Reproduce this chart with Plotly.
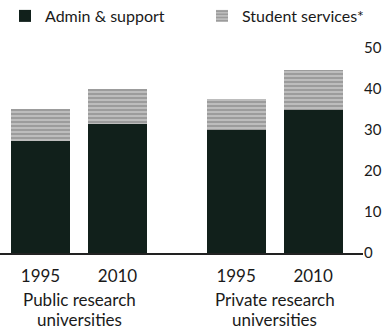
import plotly.graph_objects as go

groups = ["Public research<br>universities", "Private research<br>universities"]
years = ["1995", "2010"]
admin_support = [27.3, 31.5, 30.0, 34.9]
student_services = [7.8, 8.5, 7.6, 9.7]
y_ticks = [0, 10, 20, 30, 40, 50]

GROUP_STEP = 2.54
xs, xt = [], []
for gi, g in enumerate(groups):
    for yi, yr in enumerate(years):
        xs.append(gi * GROUP_STEP + yi)
        xt.append(yr)

font = "Lato"
fig = go.Figure()
fig.add_bar(x=xs, y=admin_support, name="Admin & support", width=0.766, legend="legend",
            showlegend=True, marker=dict(color="#11201b", line=dict(width=0)))
fig.add_bar(x=xs, y=student_services, name="Student services*", width=0.766, legend="legend2",
            showlegend=True,
            marker=dict(color="#bdbdbd", line=dict(width=0),
                        pattern=dict(shape="-", fgcolor="#5e5e5e", size=4, solidity=0.35)))

PLOT_TOP, PLOT_BOTTOM = 48, 253
for gi, g in enumerate(groups):
    for li, line in enumerate(g.split("<br>")):
        py = 299 + li * 20
        fig.add_annotation(x=gi * GROUP_STEP + 0.5, y=(PLOT_BOTTOM - py) / (PLOT_BOTTOM - PLOT_TOP),
                           xref="x", yref="paper", borderpad=0,
                           text=line, showarrow=False, yanchor="middle",
                           font=dict(family=font, size=17, color="#1a1a1a"))

leg_y = 1 + (PLOT_TOP - 16) / (PLOT_BOTTOM - PLOT_TOP)
fig.update_layout(
    barmode="stack",
    showlegend=True,
    width=385, height=332,
    margin=dict(l=0, r=22, t=48, b=79, autoexpand=False),
    paper_bgcolor="white", plot_bgcolor="white",
    font=dict(family=font, color="#1a1a1a"),
    legend=dict(orientation="h", x=5 / 363, xanchor="left", y=leg_y, yanchor="middle",
                font=dict(size=16, family=font), bgcolor="rgba(0,0,0,0)"),
    legend2=dict(orientation="h", x=(243 - 41) / 363, xanchor="left", y=leg_y,
                 yanchor="middle", font=dict(size=16, family=font), bgcolor="rgba(0,0,0,0)"),
    bargap=0,
)
fig.update_xaxes(range=[-0.526, 4.188], tickvals=xs, ticktext=xt, showgrid=False,
                 zeroline=False, showline=True, linecolor="#222", linewidth=1.5,
                 ticks="", ticklabelstandoff=7, tickfont=dict(size=17, family=font))
fig.update_yaxes(range=[0, 50], side="right", tickvals=y_ticks, showgrid=False,
                 zeroline=False, ticks="", ticklabelstandoff=0,
                 tickfont=dict(size=15, family=font))
fig.write_html("out.html", config={"displayModeBar": False},
               post_script="document.body.style.margin='0';")
